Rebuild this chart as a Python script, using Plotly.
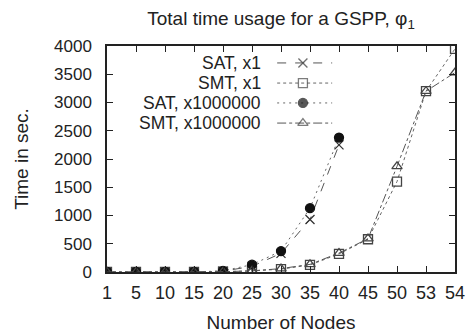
import plotly.graph_objects as go

nodes = ["1", "5", "10", "15", "20", "25", "30", "35", "40", "45", "50", "53", "54"]
sat_x1 = [0, 0, 0, 0, 15, 100, 330, 930, 2250]
smt_x1 = [0, 0, 0, 0, 5, 20, 50, 125, 320, 580, 1600, 3200, 3950]
sat_x1e6 = [0, 0, 0, 0, 20, 130, 370, 1130, 2380]
smt_x1e6 = [0, 0, 0, 0, 5, 20, 60, 135, 335, 590, 1870, 3200, 3530]
series_names = ["SAT, x1", "SMT, x1", "SAT, x1000000", "SMT, x1000000"]
y_ticks = [0, 500, 1000, 1500, 2000, 2500, 3000, 3500, 4000]

FONT = "Liberation Sans, Arial, sans-serif"
styles = [
    dict(dash="dash", symbol="x-thin-open", size=9, lc="#555", mc="#333"),
    dict(dash="dot", symbol="square-open", size=9, lc="#666", mc="#444"),
    dict(dash="2px,4px", symbol="circle", size=9, lc="#666", mc="#111"),
    dict(dash="dashdot", symbol="triangle-up-open", size=9, lc="#555", mc="#444"),
]
data = [sat_x1, smt_x1, sat_x1e6, smt_x1e6]

fig = go.Figure()
for ys, st, nm in zip(data, styles, series_names):
    fig.add_trace(go.Scatter(
        x=nodes[:len(ys)], y=ys, mode="lines+markers", name=nm,
        line=dict(color=st["lc"], width=1, dash=st["dash"]),
        marker=dict(symbol=st["symbol"], size=st["size"], color=st["mc"],
                    line=dict(color=st["mc"], width=1.3)),
        showlegend=False,
    ))

# custom legend (text to the left of the sample line), on a separate unit subplot
row_y = [0.925, 0.836, 0.748, 0.659]
for st, nm, ry in zip(styles, series_names, row_y):
    fig.add_trace(go.Scatter(
        x=[0.489, 0.563, 0.647], y=[ry, ry, ry], xaxis="x2", yaxis="y2",
        mode="lines+markers", showlegend=False, hoverinfo="skip",
        line=dict(color=st["lc"], width=1, dash=st["dash"]),
        marker=dict(symbol=st["symbol"], size=[0, st["size"], 0], color=st["mc"],
                    line=dict(color=st["mc"], width=1.3)),
    ))
    fig.add_annotation(x=0.448, y=ry, xref="paper", yref="paper", text=nm,
                       showarrow=False, xanchor="right", yanchor="middle",
                       font=dict(family=FONT, size=17.5, color="#222"))

fig.update_layout(
    width=466, height=333,
    margin=dict(l=107, r=11, t=46, b=61),
    paper_bgcolor="white", plot_bgcolor="rgba(0,0,0,0)",
    font=dict(family=FONT, size=18, color="#222"),
    title=dict(text="Total time usage for a GSPP, φ<sub>1</sub>", x=0.5, xref="paper",
               xanchor="center", y=0.946, yanchor="middle",
               font=dict(family=FONT, size=19, color="#222")),
    xaxis=dict(type="category", range=[0, 12], showgrid=False, zeroline=False,
               showline=True, linecolor="#222", linewidth=1.5, mirror="ticks",
               ticks="inside", ticklen=6, tickcolor="#222", ticklabelstandoff=4,
               automargin=False,
               title=dict(text="Number of Nodes", standoff=14, font=dict(size=19)),
               tickfont=dict(size=18)),
    yaxis=dict(range=[0, 4000], tickvals=y_ticks, showgrid=False, zeroline=False,
               showline=True, linecolor="#222", linewidth=1.5, mirror="ticks",
               ticks="inside", ticklen=6, tickcolor="#222", ticklabelstandoff=10,
               automargin=False,
               title=dict(text="Time in sec.", standoff=20, font=dict(size=19)),
               tickfont=dict(size=17)),
    xaxis2=dict(domain=[0, 1], anchor="y2", type="linear", range=[0, 1],
                autorange=False, visible=False, fixedrange=True),
    yaxis2=dict(domain=[0, 1], anchor="x2", type="linear", range=[0, 1],
                autorange=False, visible=False, fixedrange=True),
)

fig.write_html("out.html")
